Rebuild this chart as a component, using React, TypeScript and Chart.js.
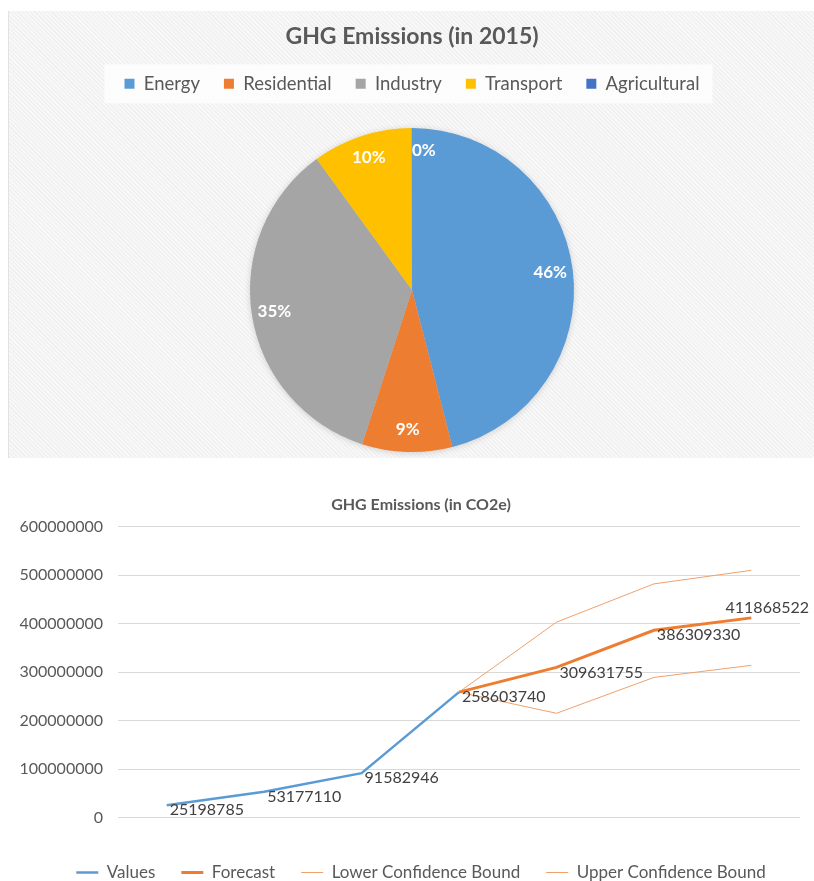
import React, { useEffect, useRef } from "react";
import { Chart, registerables } from "chart.js";

Chart.register(...registerables);

const FONT = "Lato";

// ---- Pie data ----
const pieCategories = ["Energy", "Residential", "Industry", "Transport", "Agricultural"];
const pieValues = [46, 9, 35, 10, 0.02];
const pieColors = ["#5B9BD5", "#ED7D31", "#A5A5A5", "#FFC000", "#4472C4"];

// ---- Line data ----
const years = ["1975", "1990", "2000", "2015", "2030", "2045", "2050"];
const valuesSeries = [25198785, 53177110, 91582946, 258603740, null, null, null];
const forecastSeries = [null, null, null, 258603740, 309631755, 386309330, 411868522];
const lowerBoundSeries = [null, null, null, 258603740, 215000000, 289000000, 314000000];
const upperBoundSeries = [null, null, null, 258603740, 403000000, 482000000, 510000000];
const yMax = 600000000;
const yStep = 100000000;

const pieShadowPlugin = {
  id: "pieShadow",
  beforeDatasetsDraw(chart: any) {
    const meta = chart.getDatasetMeta(0);
    if (!meta.data.length) return;
    const p = meta.data[0].getProps(["x", "y", "outerRadius"], true);
    const ctx = chart.ctx;
    ctx.save();
    ctx.shadowColor = "rgba(0,0,0,0.18)";
    ctx.shadowBlur = 7;
    ctx.shadowOffsetY = 1;
    ctx.fillStyle = "#cccccc";
    ctx.beginPath();
    ctx.arc(p.x, p.y, p.outerRadius - 0.5, 0, Math.PI * 2);
    ctx.fill();
    ctx.restore();
  },
};

const pieLabelPlugin = {
  id: "pieLabels",
  afterDatasetsDraw(chart: any) {
    const ctx = chart.ctx;
    const meta = chart.getDatasetMeta(0);
    const data = chart.data.datasets[0].data as number[];
    const total = data.reduce((a, b) => a + b, 0);
    ctx.save();
    ctx.font = `bold 17px ${FONT}`;
    ctx.fillStyle = "#ffffff";
    ctx.textBaseline = "middle";
    meta.data.forEach((arc: any, i: number) => {
      const p = arc.getProps(["x", "y", "startAngle", "endAngle", "outerRadius"], true);
      const mid = (p.startAngle + p.endAngle) / 2;
      const span = p.endAngle - p.startAngle;
      const r = p.outerRadius * 0.86;
      const px = p.x + Math.cos(mid) * r;
      const py = p.y + Math.sin(mid) * r;
      ctx.textAlign = span < 0.1 ? "left" : "center";
      ctx.fillText(Math.round((data[i] / total) * 100) + "%", px, py);
    });
    ctx.restore();
  },
};

const legendBgPlugin = {
  id: "legendBg",
  beforeDraw(chart: any) {
    const lg = chart.legend;
    if (!lg || !lg.legendHitBoxes || !lg.legendHitBoxes.length) return;
    const boxes = lg.legendHitBoxes;
    let l = Infinity, r = -Infinity, t = Infinity, b = -Infinity;
    boxes.forEach((h: any) => {
      l = Math.min(l, h.left);
      r = Math.max(r, h.left + h.width);
      t = Math.min(t, h.top);
      b = Math.max(b, h.top + h.height);
    });
    const cy = (t + b) / 2;
    const ctx = chart.ctx;
    ctx.save();
    ctx.fillStyle = "rgba(255,255,255,0.75)";
    ctx.fillRect(l - 20, cy - 19.5, r - l + 33, 39);
    ctx.restore();
  },
};

const lineLabelPlugin = {
  id: "lineLabels",
  afterDatasetsDraw(chart: any) {
    const ctx = chart.ctx;
    ctx.save();
    ctx.font = `16px ${FONT}`;
    ctx.fillStyle = "#404040";
    ctx.textBaseline = "middle";
    const labeled: Record<number, boolean> = {};
    [0, 1].forEach((di) => {
      const ds = chart.data.datasets[di];
      const meta = chart.getDatasetMeta(di);
      ds.data.forEach((v: any, i: number) => {
        if (v === null || v === undefined || labeled[i]) return;
        labeled[i] = true;
        const pt = meta.data[i];
        const txt = String(v);
        const w = ctx.measureText(txt).width;
        let x = pt.x + 3;
        let y = pt.y + 5;
        ctx.textAlign = "left";
        if (x + w > 814 - 2) {
          ctx.textAlign = "center";
          x = Math.min(pt.x + 16, 814 - 4 - w / 2);
          y = pt.y - 10;
        }
        ctx.fillText(txt, x, y);
      });
    });
    ctx.restore();
  },
};

function PieChart() {
  const ref = useRef<HTMLCanvasElement>(null);
  useEffect(() => {
    const chart = new Chart(ref.current!, {
      type: "pie",
      data: {
        labels: pieCategories,
        datasets: [
          {
            data: pieValues,
            backgroundColor: pieColors,
            borderWidth: 0,
            radius: 162,
          } as any,
        ],
      },
      options: {
        animation: false,
        responsive: false,
        maintainAspectRatio: false,
        layout: { padding: 0 },
        plugins: {
          title: {
            display: true,
            text: "GHG Emissions (in 2015)",
            color: "#595959",
            font: { family: FONT, size: 23, weight: "bold" },
            padding: { top: 12, bottom: 0 },
          },
          legend: {
            display: true,
            position: "top",
            labels: {
              color: "#595959",
              font: { family: FONT, size: 18.5 },
              boxWidth: 10,
              boxHeight: 10,
              padding: 24,
            },
          },
          tooltip: { enabled: false },
        },
      },
      plugins: [pieShadowPlugin, pieLabelPlugin, legendBgPlugin],
    });
    return () => chart.destroy();
  }, []);
  return <canvas ref={ref} width={806} height={466} style={{ display: "block" }} />;
}

function LineChart() {
  const ref = useRef<HTMLCanvasElement>(null);
  useEffect(() => {
    const orange = "#ED7D31";
    const thin = "#F0A06A";
    const chart = new Chart(ref.current!, {
      type: "line",
      data: {
        labels: years,
        datasets: [
          { label: "Values", data: valuesSeries, borderColor: "#5B9BD5", backgroundColor: "#5B9BD5", borderWidth: 2.5, pointRadius: 0 },
          { label: "Forecast", data: forecastSeries, borderColor: orange, backgroundColor: orange, borderWidth: 3, pointRadius: 0 },
          { label: "Lower Confidence Bound", data: lowerBoundSeries, borderColor: thin, backgroundColor: thin, borderWidth: 1, pointRadius: 0 },
          { label: "Upper Confidence Bound", data: upperBoundSeries, borderColor: thin, backgroundColor: thin, borderWidth: 1, pointRadius: 0 },
        ],
      },
      options: {
        animation: false,
        responsive: false,
        maintainAspectRatio: false,
        layout: { padding: { left: 18, right: 14, top: 0, bottom: 0 } },
        scales: {
          x: {
            type: "category",
            offset: true,
            grid: { display: false },
            border: { display: false },
            ticks: { color: "#595959", font: { family: FONT, size: 17 }, padding: 13, maxRotation: 0 },
            afterFit: (s: any) => { s.height = 20.5; },
          },
          y: {
            min: 0,
            max: yMax,
            ticks: {
              stepSize: yStep,
              color: "#595959",
              font: { family: FONT, size: 16 },
              padding: 15,
              callback: (v: any) => String(v),
            },
            grid: { color: "#D9D9D9", drawTicks: false, lineWidth: 1 },
            border: { display: false },
            afterFit: (s: any) => { s.width = 100; },
          },
          yPad: {
            position: "right",
            display: true,
            grid: { display: false },
            border: { display: false },
            ticks: { display: false },
            afterFit: (s: any) => { s.width = 24; },
          },
        },
        plugins: {
          title: {
            display: true,
            text: "GHG Emissions (in CO2e)",
            color: "#595959",
            font: { family: FONT, size: 16, weight: "bold" },
            padding: { top: 15.5, bottom: 12 },
          },
          legend: {
            display: true,
            position: "bottom",
            labels: {
              color: "#595959",
              font: { family: FONT, size: 17 },
              usePointStyle: true,
              pointStyle: "line",
              pointStyleWidth: 22,
              padding: 26,
            },
          },
          tooltip: { enabled: false },
        },
      },
      plugins: [lineLabelPlugin],
    });
    return () => chart.destroy();
  }, []);
  return <canvas ref={ref} width={838} height={411} style={{ display: "block" }} />;
}

export default function App() {
  Chart.defaults.font.family = FONT;
  return (
    <div style={{ position: "fixed", left: 0, top: 0, width: 814, height: 881, overflow: "hidden", background: "#fff" }}>
      <div
        style={{
          position: "absolute",
          left: 8,
          top: 11,
          width: 806,
          height: 447,
          overflow: "hidden",
          borderLeft: "1px solid #e2e2e2",
          boxSizing: "border-box",
          background: "repeating-linear-gradient(45deg, #f1f1f1 0px, #f1f1f1 1.5px, #f8f8f8 1.5px, #f8f8f8 3px)",
        }}
      >
        <PieChart />
      </div>
      <div style={{ position: "absolute", left: 0, top: 480, width: 838, height: 411 }}>
        <LineChart />
      </div>
    </div>
  );
}
